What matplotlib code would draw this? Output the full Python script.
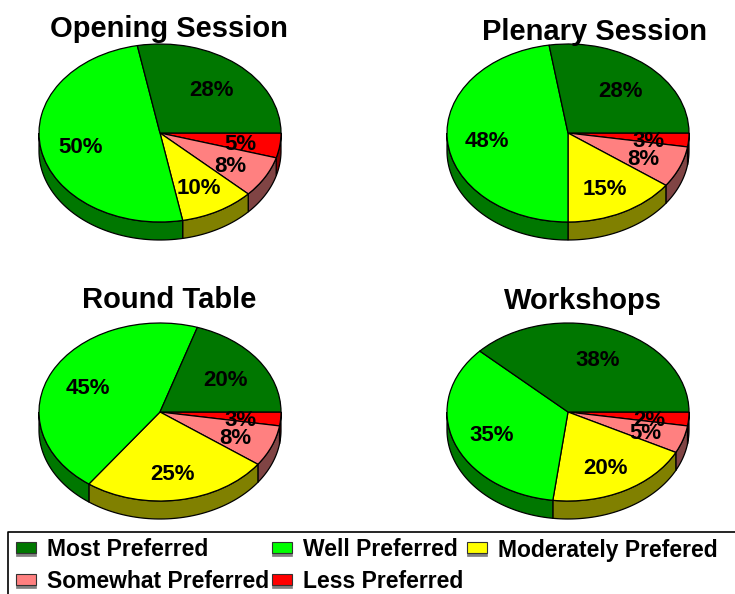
import numpy as np
import matplotlib
matplotlib.use('Agg')
import matplotlib.pyplot as plt
from matplotlib.patches import Rectangle

plt.rcParams['font.family'] = ['Liberation Sans', 'DejaVu Sans']
plt.rcParams['font.weight'] = 'bold'

W, H = 735, 594

# 数据（顺时针从正东开始：Less, Somewhat, Moderately, Well, Most）
titles = ['Opening Session', 'Plenary Session', 'Round Table', 'Workshops']
less = [4.5, 2.5, 2.5, 2.5]
somewhat = [7.5, 7.5, 7.5, 5]
moderately = [10, 15, 25, 19.5]
well = [50, 47.5, 45, 35]
most = [28, 27.5, 20, 38]

# 图上显示的标签
less_labels = ['5%', '3%', '3%', '2%']
somewhat_labels = ['8%', '8%', '8%', '5%']
moderately_labels = ['10%', '15%', '25%', '20%']
well_labels = ['50%', '48%', '45%', '35%']
most_labels = ['28%', '28%', '20%', '38%']

legend_names = ['Most Preferred', 'Well Preferred', 'Moderately Prefered',
                'Somewhat Preferred', 'Less Preferred']

top_colors = ['#ff0000', '#ff8080', '#ffff00', '#00ff00', '#007700']
side_colors = ['#800000', '#804444', '#808000', '#007700', '#003c00']
legend_colors = ['#007700', '#00ff00', '#ffff00', '#ff8080', '#ff0000']

# 布局：饼图中心、半径（像素）
centers = [(160, 133), (568, 133), (160, 412), (568, 412)]
title_pos = [(169, 29), (595, 32), (169, 300), (583, 301)]
RX, RY, DEPTH = 121, 89, 18


def pie_axes(cx, cy):
    # 一个数据单位在 x 方向为 RX 像素，y 方向为 RY 像素，饼图被压成椭圆
    sx, sy = 1.2, 1.4
    ax = fig.add_axes([(cx - sx * RX) / W, (H - cy - sy * RY) / H,
                       2 * sx * RX / W, 2 * sy * RY / H])
    ax.patch.set_alpha(0)
    return ax, sx, sy


def draw_pie(ax, values, labels):
    # 侧面
    angles = np.cumsum([0] + values) / sum(values) * 360
    d = DEPTH / RY
    for i in range(len(values)):
        a, b = angles[i], min(angles[i + 1], 180)
        if a >= 180:
            continue
        t = np.radians(np.linspace(a, b, 60))
        x = np.cos(t)
        y = -np.sin(t)
        ax.fill(np.r_[x, x[::-1]], np.r_[y, y[::-1] - d],
                facecolor=side_colors[i], edgecolor='black', linewidth=0.9, zorder=1)
    # 顶面
    ax.pie(values, colors=top_colors, startangle=0, counterclock=False,
           wedgeprops={'edgecolor': 'black', 'linewidth': 0.9, 'zorder': 2})
    # 百分比标签
    for i, lab in enumerate(labels):
        mid = np.radians((angles[i] + angles[i + 1]) / 2)
        ax.text(0.67 * np.cos(mid), -0.67 * np.sin(mid) - 0.04, lab, ha='center', va='center',
                fontsize=16, fontweight='bold', color='black', zorder=5)


fig = plt.figure(figsize=(W / 100, H / 100), dpi=100, facecolor='white')

for k in range(4):
    vals = [less[k], somewhat[k], moderately[k], well[k], most[k]]
    labs = [less_labels[k], somewhat_labels[k], moderately_labels[k], well_labels[k], most_labels[k]]
    ax, sx, sy = pie_axes(*centers[k])
    draw_pie(ax, vals, labs)
    ax.set_aspect('auto')
    ax.set_xlim(-sx, sx)
    ax.set_ylim(-sy, sy)
    ax.axis('off')

# 覆盖层：标题和图例（像素坐标）
over = fig.add_axes([0, 0, 1, 1], zorder=10)
over.set_xlim(0, W)
over.set_ylim(H, 0)
over.axis('off')
over.patch.set_alpha(0)

for t, (x, y) in zip(titles, title_pos):
    over.text(x, y, t, ha='center', va='center', fontsize=21, fontweight='bold')

over.plot([8, 8, W], [H, 532, 532], color='black', linewidth=1.2, clip_on=False)

legend_pos = [(16, 549), (272, 549), (467, 549), (16, 581), (272, 581)]
for name, c, (x, y) in zip(legend_names, legend_colors, legend_pos):
    over.add_patch(Rectangle((x, y - 5), 20, 12, facecolor='#808080', edgecolor='#808080', linewidth=0.5))
    over.add_patch(Rectangle((x, y - 7), 20, 11, facecolor=c, edgecolor='#333333', linewidth=0.8))
    over.text(x + 31, y + 7.5, name, ha='left', va='baseline', fontsize=16.5, fontweight='bold')

plt.savefig('out.png', dpi=100)
